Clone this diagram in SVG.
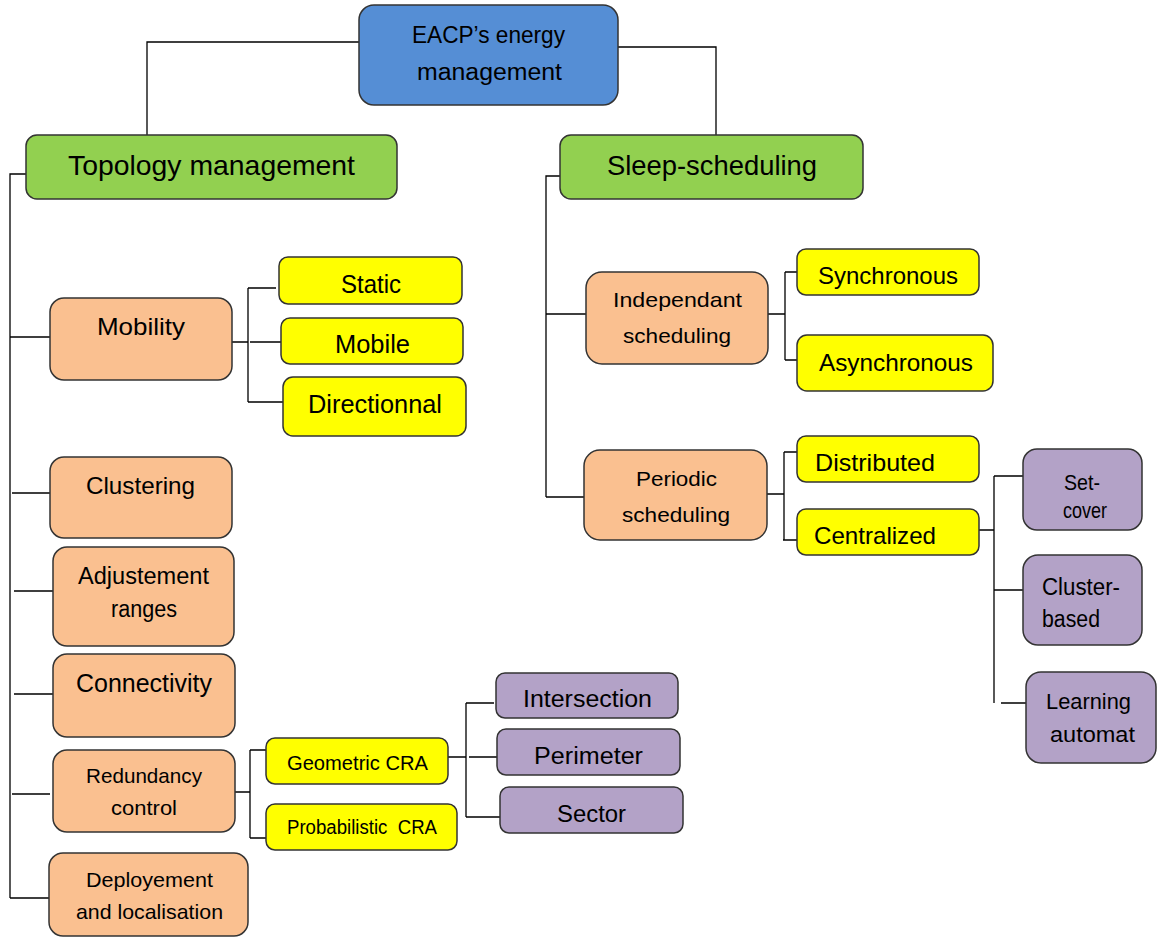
<svg xmlns="http://www.w3.org/2000/svg" width="1168" height="938" viewBox="0 0 1168 938">
  <style>
    .box { stroke: #333333; stroke-width: 1.5; }
    .root { fill: #558ED5; }
    .main { fill: #92D050; }
    .sub { fill: #FAC090; }
    .leaf { fill: #FFFF00; }
    .tech { fill: #B3A2C7; }
    text { font-family: "Liberation Sans", Arial, sans-serif; fill: #000000; white-space: pre; }
    #connectors path { fill: none; stroke: #000000; stroke-width: 1.3; }
  </style>
  <rect width="1168" height="938" fill="#ffffff"/>

  <!-- tree connectors -->
  <g id="connectors">
    <path d="M359,42 H147 V135 M618,47 H716 V135"/>
    <!-- topology management trunk -->
    <path d="M26,174 H10 V898 M10,337 H50 M12,493 H50 M14,591 H53 M14,694 H53 M12,794 H50 M10,898 H49"/>
    <!-- mobility -->
    <path d="M232,342 H248 M248,288 V402 M248,288 H276 M250,342 H281 M248,402 H284"/>
    <!-- redundancy control -->
    <path d="M235,792 H250 M250,750 V838 M250,750 H266 M250,838 H266"/>
    <!-- geometric CRA -->
    <path d="M448,757 H466 M466,703 V817 M466,703 H494 M469,757 H497 M466,817 H500"/>
    <!-- sleep-scheduling trunk -->
    <path d="M560,176 H546 V497 M546,314 H586 M546,497 H584"/>
    <!-- independant scheduling -->
    <path d="M768,314 H785 M785,272 V360 M785,272 H797 M785,360 H797"/>
    <!-- periodic scheduling -->
    <path d="M767,494 H784 M784,452 V540 M784,452 H797 M783,540 H797"/>
    <!-- centralized -->
    <path d="M979,530 H994 M994,476 V703 M994,476 H1023 M994,590 H1030 M1001,703 H1029"/>
  </g>

  <g id="root">
    <rect class="box root" x="359" y="5" width="259" height="100" rx="15"/>
    <text x="412" y="43" font-size="23" textLength="153" lengthAdjust="spacingAndGlyphs">EACP’s energy</text>
    <text x="417" y="80" font-size="23" textLength="145" lengthAdjust="spacingAndGlyphs">management</text>
  </g>

  <g id="topology">
    <rect class="box main" x="26" y="135" width="371" height="64" rx="11"/>
    <text x="68" y="175" font-size="28" textLength="287" lengthAdjust="spacingAndGlyphs">Topology management</text>
  </g>

  <g id="sleep">
    <rect class="box main" x="560" y="135" width="303" height="64" rx="11"/>
    <text x="607" y="175" font-size="28" textLength="210" lengthAdjust="spacingAndGlyphs">Sleep-scheduling</text>
  </g>

  <g id="mobility">
    <rect class="box sub" x="50" y="298" width="182" height="82" rx="14"/>
    <text x="97" y="335" font-size="24" textLength="88" lengthAdjust="spacingAndGlyphs">Mobility</text>
  </g>
  <g id="static">
    <rect class="box leaf" x="279" y="257" width="183" height="47" rx="9"/>
    <text x="341" y="293" font-size="25" textLength="60" lengthAdjust="spacingAndGlyphs">Static</text>
  </g>
  <g id="mobile">
    <rect class="box leaf" x="281" y="318" width="182" height="46" rx="9"/>
    <text x="335" y="353" font-size="25" textLength="75" lengthAdjust="spacingAndGlyphs">Mobile</text>
  </g>
  <g id="directionnal">
    <rect class="box leaf" x="283" y="377" width="183" height="59" rx="10"/>
    <text x="308" y="413" font-size="25" textLength="134" lengthAdjust="spacingAndGlyphs">Directionnal</text>
  </g>

  <g id="clustering">
    <rect class="box sub" x="50" y="457" width="182" height="81" rx="14"/>
    <text x="86" y="494" font-size="24" textLength="109" lengthAdjust="spacingAndGlyphs">Clustering</text>
  </g>

  <g id="adjustement">
    <rect class="box sub" x="53" y="547" width="181" height="99" rx="14"/>
    <text x="78" y="584" font-size="23" textLength="131" lengthAdjust="spacingAndGlyphs">Adjustement</text>
    <text x="111" y="617" font-size="23" textLength="66" lengthAdjust="spacingAndGlyphs">ranges</text>
  </g>

  <g id="connectivity">
    <rect class="box sub" x="53" y="654" width="182" height="83" rx="14"/>
    <text x="76" y="692" font-size="25" textLength="136" lengthAdjust="spacingAndGlyphs">Connectivity</text>
  </g>

  <g id="redundancy">
    <rect class="box sub" x="53" y="750" width="182" height="82" rx="14"/>
    <text x="86" y="783" font-size="21" textLength="116" lengthAdjust="spacingAndGlyphs">Redundancy</text>
    <text x="111" y="815" font-size="21" textLength="66" lengthAdjust="spacingAndGlyphs">control</text>
  </g>
  <g id="geometric">
    <rect class="box leaf" x="266" y="738" width="182" height="46" rx="9"/>
    <text x="287" y="770" font-size="21" textLength="141" lengthAdjust="spacingAndGlyphs">Geometric CRA</text>
  </g>
  <g id="probabilistic">
    <rect class="box leaf" x="266" y="804" width="191" height="46" rx="9"/>
    <text x="287" y="834" font-size="20" textLength="150" lengthAdjust="spacingAndGlyphs">Probabilistic  CRA</text>
  </g>
  <g id="intersection">
    <rect class="box tech" x="496" y="673" width="182" height="45" rx="9"/>
    <text x="523" y="707" font-size="23" textLength="129" lengthAdjust="spacingAndGlyphs">Intersection</text>
  </g>
  <g id="perimeter">
    <rect class="box tech" x="497" y="729" width="183" height="46" rx="9"/>
    <text x="534" y="764" font-size="23" textLength="109" lengthAdjust="spacingAndGlyphs">Perimeter</text>
  </g>
  <g id="sector">
    <rect class="box tech" x="500" y="787" width="183" height="46" rx="9"/>
    <text x="557" y="822" font-size="23" textLength="69" lengthAdjust="spacingAndGlyphs">Sector</text>
  </g>

  <g id="deployement">
    <rect class="box sub" x="49" y="853" width="199" height="83" rx="14"/>
    <text x="86" y="887" font-size="21" textLength="127" lengthAdjust="spacingAndGlyphs">Deployement</text>
    <text x="76" y="919" font-size="21" textLength="147" lengthAdjust="spacingAndGlyphs">and localisation</text>
  </g>

  <g id="independant">
    <rect class="box sub" x="586" y="272" width="182" height="92" rx="16"/>
    <text x="613" y="307" font-size="21" textLength="129" lengthAdjust="spacingAndGlyphs">Independant</text>
    <text x="623" y="343" font-size="21" textLength="108" lengthAdjust="spacingAndGlyphs">scheduling</text>
  </g>
  <g id="synchronous">
    <rect class="box leaf" x="797" y="249" width="182" height="46" rx="9"/>
    <text x="818" y="284" font-size="24" textLength="140" lengthAdjust="spacingAndGlyphs">Synchronous</text>
  </g>
  <g id="asynchronous">
    <rect class="box leaf" x="797" y="335" width="196" height="56" rx="10"/>
    <text x="819" y="371" font-size="24" textLength="154" lengthAdjust="spacingAndGlyphs">Asynchronous</text>
  </g>

  <g id="periodic">
    <rect class="box sub" x="584" y="450" width="183" height="90" rx="16"/>
    <text x="636" y="486" font-size="21" textLength="81" lengthAdjust="spacingAndGlyphs">Periodic</text>
    <text x="622" y="522" font-size="21" textLength="108" lengthAdjust="spacingAndGlyphs">scheduling</text>
  </g>
  <g id="distributed">
    <rect class="box leaf" x="797" y="436" width="182" height="46" rx="9"/>
    <text x="815" y="471" font-size="24" textLength="120" lengthAdjust="spacingAndGlyphs">Distributed</text>
  </g>
  <g id="centralized">
    <rect class="box leaf" x="797" y="509" width="182" height="46" rx="9"/>
    <text x="814" y="544" font-size="24" textLength="122" lengthAdjust="spacingAndGlyphs">Centralized</text>
  </g>
  <g id="set-cover">
    <rect class="box tech" x="1023" y="449" width="119" height="81" rx="14"/>
    <text x="1064" y="490" font-size="22" textLength="36" lengthAdjust="spacingAndGlyphs">Set-</text>
    <text x="1063" y="518" font-size="22" textLength="44" lengthAdjust="spacingAndGlyphs">cover</text>
  </g>
  <g id="cluster-based">
    <rect class="box tech" x="1023" y="555" width="119" height="90" rx="15"/>
    <text x="1042" y="595" font-size="23" textLength="78" lengthAdjust="spacingAndGlyphs">Cluster-</text>
    <text x="1042" y="627" font-size="23" textLength="58" lengthAdjust="spacingAndGlyphs">based</text>
  </g>
  <g id="learning-automat">
    <rect class="box tech" x="1026" y="672" width="130" height="91" rx="15"/>
    <text x="1046" y="709" font-size="22" textLength="85" lengthAdjust="spacingAndGlyphs">Learning</text>
    <text x="1050" y="742" font-size="22" textLength="85" lengthAdjust="spacingAndGlyphs">automat</text>
  </g>
</svg>
